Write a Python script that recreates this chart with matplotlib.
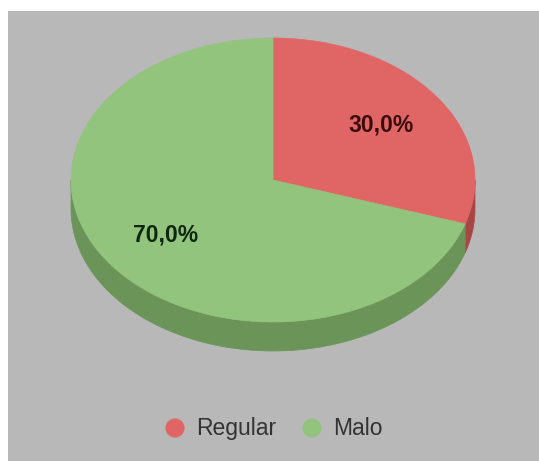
import numpy as np
import matplotlib
matplotlib.use("Agg")
import matplotlib.pyplot as plt
from matplotlib.patches import Polygon, Rectangle

labels = ["Regular", "Malo"]
values = [30, 70]
top_colors = ["#e06666", "#93c47d"]
side_colors = ["#a84646", "#6b9459"]
text_colors = ["#3a0d0d", "#0f260f"]

plt.rcParams["font.family"] = ["Liberation Sans", "DejaVu Sans"]

W, H = 539, 461
fig = plt.figure(figsize=(W / 100, H / 100), dpi=100)
fig.patch.set_facecolor("white")
ax = fig.add_axes([0, 0, 1, 1])
ax.set_xlim(0, W)
ax.set_ylim(H, 0)
ax.axis("off")

# fondo gris
ax.add_patch(Rectangle((8, 11), W - 8, H - 11, facecolor="#b8b8b8", edgecolor="none"))

# geometria del pastel 3D
cx, cy, rx, ry, depth = 273, 180, 202, 142, 29


def pt(t):
    r = np.radians(t)
    return cx + rx * np.cos(r), cy - ry * np.sin(r)


total = sum(values)
spans = []
start = 90.0
for v in values:
    end = start - 360.0 * v / total
    spans.append((start, end))
    start = end

# cara lateral (solo mitad frontal)
for (a0, a1), col in zip(spans, side_colors):
    lo, hi = max(a1, -180.0), min(a0, 0.0)
    if hi <= lo:
        continue
    t = np.linspace(hi, lo, 120)
    xs, ys = pt(t)
    verts = np.column_stack([np.r_[xs, xs[::-1]], np.r_[ys, ys[::-1] + depth]])
    ax.add_patch(Polygon(verts, closed=True, facecolor=col, edgecolor=col, lw=0.5))

# cara superior
for (a0, a1), col in zip(spans, top_colors):
    t = np.linspace(a0, a1, 300)
    xs, ys = pt(t)
    verts = np.column_stack([np.r_[cx, xs], np.r_[cy, ys]])
    ax.add_patch(Polygon(verts, closed=True, facecolor=col, edgecolor=col, lw=0.5))

# etiquetas de porcentaje
for (a0, a1), v, tc in zip(spans, values, text_colors):
    mid = np.radians((a0 + a1) / 2)
    lx = cx + 0.66 * rx * np.cos(mid)
    ly = cy - 0.66 * ry * np.sin(mid)
    txt = f"{v / total * 100:.1f}%".replace(".", ",")
    ax.text(lx, ly, txt, ha="center", va="center", fontsize=16.5,
            fontweight="bold", color=tc)

# leyenda
leg_x = [175, 312]
leg_y = 428
for x, lab, col in zip(leg_x, labels, top_colors):
    ax.scatter([x], [leg_y], s=190, color=col, edgecolors="none")
    ax.text(x + 21, leg_y, lab, ha="left", va="center", fontsize=16.5,
            color="#333333")

fig.savefig("out.png", dpi=100, facecolor=fig.get_facecolor())
